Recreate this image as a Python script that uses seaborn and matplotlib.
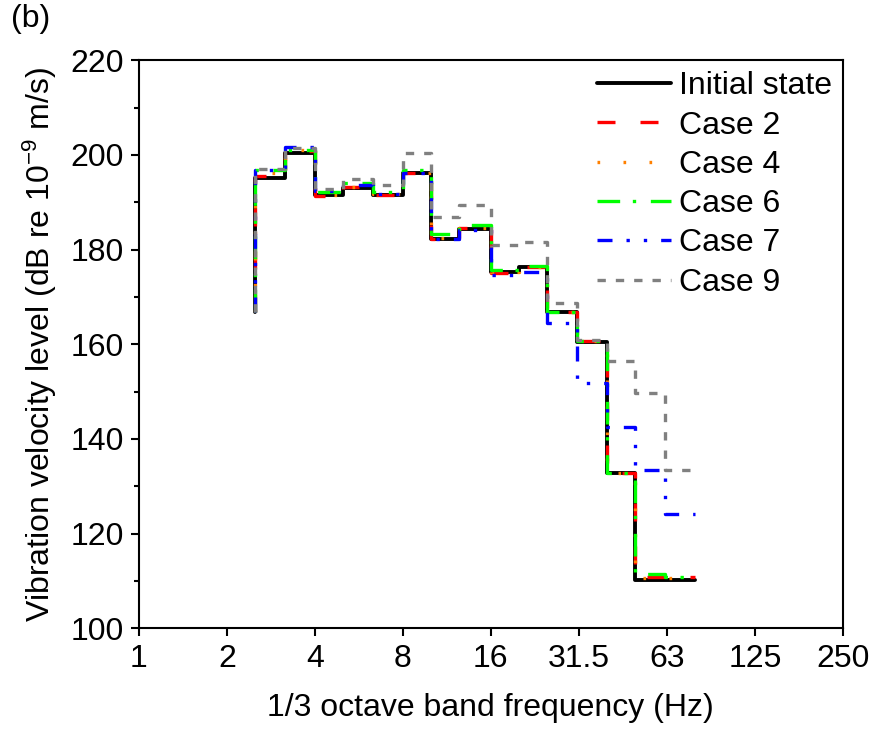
import numpy as np
import pandas as pd
import matplotlib
matplotlib.use("Agg")
import matplotlib.pyplot as plt
import seaborn as sns
from matplotlib.ticker import MultipleLocator, NullLocator, FixedLocator, FixedFormatter

# 1/3 octave band frequencies (Hz)
freq = [2.5, 3.15, 4, 5, 6.3, 8, 10, 12.5, 16, 20, 25, 31.5, 40, 50, 63, 80]

initial = [166.8, 195.1, 200.3, 191.5, 193.0, 191.5, 196.1, 182.3, 184.4, 175.3, 176.4, 166.8, 160.5, 132.7, 110.1, 110.1]
case2   = [166.8, 195.6, 200.8, 191.3, 193.2, 191.5, 196.1, 182.3, 184.5, 175.1, 176.3, 166.8, 160.6, 132.7, 110.9, 110.8]
case4   = [166.8, 196.2, 201.0, 191.6, 193.3, 191.7, 196.2, 182.5, 184.6, 175.3, 176.4, 166.8, 160.6, 132.7, 110.7, 110.7]
case6   = [166.8, 196.8, 201.0, 192.1, 194.0, 192.2, 196.9, 183.2, 185.1, 175.6, 176.5, 166.8, 160.6, 132.7, 111.4, 110.9]
case7   = [166.8, 196.8, 201.7, 192.3, 193.6, 191.8, 196.1, 182.3, 184.2, 174.6, 175.3, 164.4, 151.8, 142.5, 133.5, 124.2]
case9   = [166.8, 197.0, 201.5, 192.7, 194.8, 193.6, 200.3, 186.9, 189.5, 180.9, 181.6, 168.7, 160.8, 156.4, 149.6, 133.4]

labels = ["Initial state", "Case 2", "Case 4", "Case 6", "Case 7", "Case 9"]
series = [initial, case2, case4, case6, case7, case9]
colors = ["#000000", "#FF0000", "#FF8000", "#00FF00", "#0000FF", "#808080"]
dash_patterns = [None, (5.4, 7.5), (0.8, 7.0), (6.8, 3.8, 1, 4.4), (4.5, 4.2, 1, 4.2, 1, 4.2), (2.5, 3.0)]
widths = [2.8, 2.4, 2.4, 2.4, 2.4, 2.4]

xtick_vals = [1, 2, 4, 8, 16, 32, 64, 128, 256]
xtick_labels = ["1", "2", "4", "8", "16", "31.5", "63", "125", "250"]

sns.set_style("ticks")
plt.rcParams["font.family"] = ["Liberation Sans", "DejaVu Sans"]
plt.rcParams["mathtext.fontset"] = "custom"
plt.rcParams["mathtext.rm"] = "Liberation Sans"
plt.rcParams["mathtext.it"] = "Liberation Sans:italic"
plt.rcParams["text.color"] = "black"
plt.rcParams["axes.labelcolor"] = "black"
plt.rcParams["xtick.color"] = "black"
plt.rcParams["ytick.color"] = "black"

FS = 23
fig = plt.figure(figsize=(8.9, 7.34), dpi=100)
ax = fig.add_axes([0.156, 0.144, 0.791, 0.774])

for lab, vals, col, dp, lw in zip(labels, series, colors, dash_patterns, widths):
    df = pd.DataFrame({"f": freq, "v": vals})
    sns.lineplot(data=df, x="f", y="v", ax=ax, color=col, lw=lw,
                 drawstyle="steps-pre", label=lab, legend=False)
    line = ax.lines[-1]
    if dp is not None:
        line.set_dashes(dp)

ax.set_xscale("log", base=2)
ax.set_xlim(1, 256)
ax.set_ylim(100, 220)
ax.xaxis.set_major_locator(FixedLocator(xtick_vals))
ax.xaxis.set_major_formatter(FixedFormatter(xtick_labels))
ax.xaxis.set_minor_locator(NullLocator())
ax.yaxis.set_major_locator(MultipleLocator(20))
ax.yaxis.set_minor_locator(MultipleLocator(10))

for s in ax.spines.values():
    s.set_visible(True)
    s.set_linewidth(1.5)
    s.set_color("black")
ax.tick_params(axis="both", which="major", direction="out", length=6, width=1.5,
               labelsize=FS, colors="black", labelcolor="black", pad=5, top=False, right=False)
ax.tick_params(axis="both", which="minor", direction="out", length=3.5, width=1.5,
               top=False, right=False)

ax.set_xlabel("1/3 octave band frequency (Hz)", fontsize=FS, labelpad=14, color="black")
ax.set_ylabel("Vibration velocity level (dB re 10$^{\\mathrm{-9}}$ m/s)", fontsize=FS,
              labelpad=8, color="black")

leg = ax.legend(loc="upper right", bbox_to_anchor=(1.0, 1.0), frameon=False,
                fontsize=FS, handlelength=2.3, handletextpad=0.25,
                labelspacing=0.29, borderaxespad=0.15, borderpad=0.2)
for t in leg.get_texts():
    t.set_color("black")

fig.text(0.012, 0.995, "(b)", fontsize=FS, va="top", ha="left", color="black")

fig.savefig("out.png", dpi=100)
